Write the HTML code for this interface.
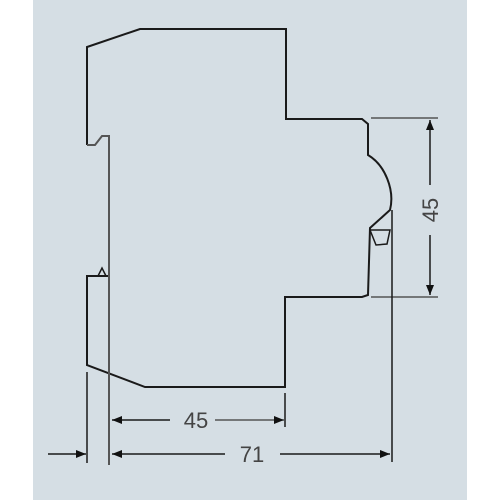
<!DOCTYPE html>
<html><head><meta charset="utf-8"><style>
html,body{margin:0;padding:0;background:#fff;}
svg{display:block;}
text{font-family:"Liberation Sans",sans-serif;fill:#444;}
</style></head><body>
<svg width="500" height="500" viewBox="0 0 500 500">
<defs>
<marker id="ar" markerWidth="10" markerHeight="8" refX="10" refY="4" orient="auto" markerUnits="userSpaceOnUse"><path d="M0,0 L10,4 L0,8 z" fill="#111"/></marker>
</defs>
<rect x="33" y="0" width="434" height="500" fill="#d5dee4"/>
<g fill="none" stroke="#1a1a1a" stroke-width="2">
<path d="M87,145 L87,47 L140,29 L286,29 L286,119 L362,119 L368,124 L368,155 C385,165 395,190 390,210 L370,228 L368,295 L362,297 L285,297 L285,387 L145,387 L87,365 L87,276 L109,276"/>
<path d="M87,145 L95,145 L102,136 L109,136 L109,465" stroke="#555"/>
<path d="M98,276 L102,268 L106,276" stroke-width="1.5"/>
<path d="M370,230 L376,245 L387,244 L390,230 Z" stroke-width="1.5"/>
</g>
<g stroke="#1a1a1a" stroke-width="1.5" fill="none">
<line x1="371" y1="118" x2="438" y2="118" stroke="#555"/>
<line x1="371" y1="297" x2="438" y2="297" stroke="#555"/>
<line x1="430" y1="185" x2="430" y2="120" marker-end="url(#ar)"/>
<line x1="430" y1="235" x2="430" y2="295" marker-end="url(#ar)"/>
<line x1="392" y1="210" x2="392" y2="462"/>
<line x1="87" y1="372" x2="87" y2="463"/>
<line x1="285" y1="393" x2="285" y2="427"/>
<line x1="170" y1="420" x2="112" y2="420" marker-end="url(#ar)"/>
<line x1="215" y1="420" x2="284" y2="420" stroke="#555" marker-end="url(#ar)"/>
<line x1="225" y1="454" x2="112" y2="454" marker-end="url(#ar)"/>
<line x1="280" y1="454" x2="390" y2="454" marker-end="url(#ar)"/>
<line x1="48" y1="454" x2="86" y2="454" marker-end="url(#ar)"/>
</g>
<text x="196" y="428" font-size="22" text-anchor="middle">45</text>
<text x="252" y="462" font-size="22" text-anchor="middle">71</text>
<text x="0" y="0" font-size="22" text-anchor="middle" transform="translate(438,210) rotate(-90)">45</text>
</svg>
</body></html>
